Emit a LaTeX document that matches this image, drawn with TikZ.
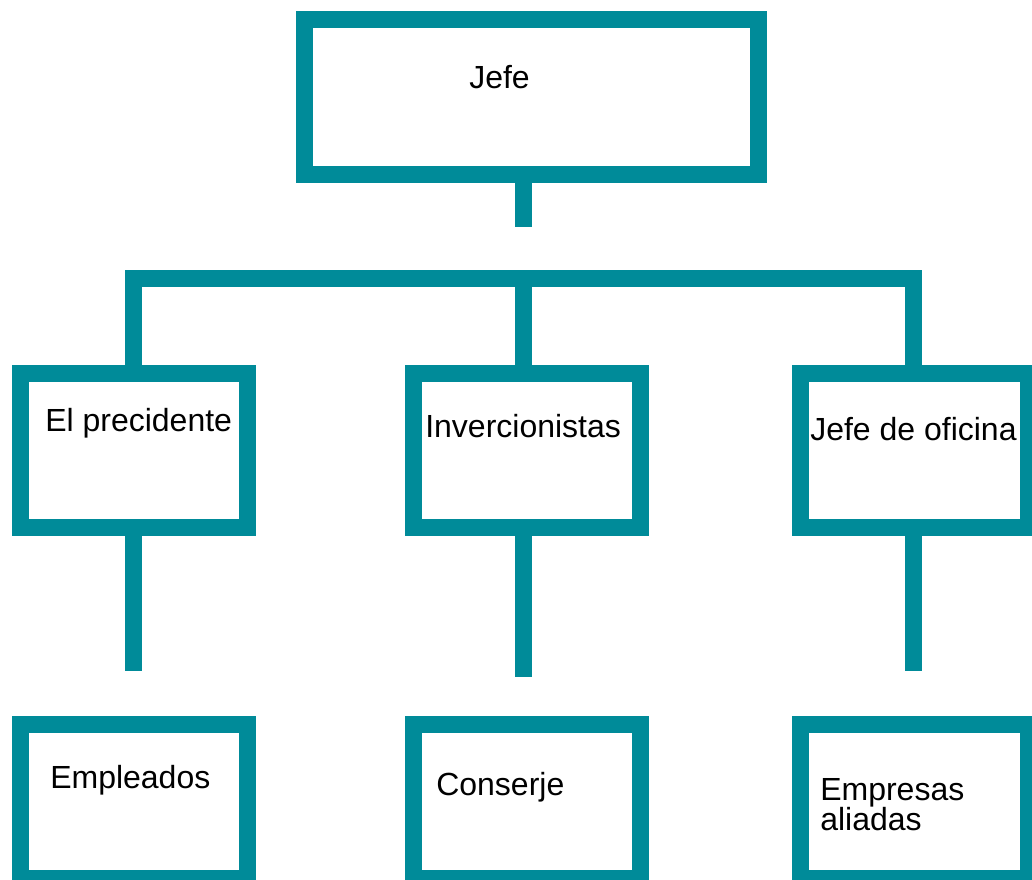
\documentclass[tikz,border=0pt]{standalone}
\usepackage{fontspec}
\setmainfont{Liberation Sans}
\definecolor{orgteal}{RGB}{0,139,153}
\begin{document}
\begin{tikzpicture}[x=0.75pt,y=-0.75pt,
  box/.style={draw=orgteal,line width=12.75pt,rectangle,inner sep=0pt,
    minimum width=170.5pt,minimum height=115.7pt},
  wire/.style={draw=orgteal,line width=12.75pt},
  lbl/.style={anchor=base west,inner sep=0pt,font=\fontsize{24}{22.5}\selectfont}]
\useasboundingbox (0,0) rectangle (1032,879);

% boxes
\node[box,minimum width=340.9pt,minimum height=116.1pt] (jefe) at (531.5,96.9) {};
\node[box] (presidente) at (133.8,450.3) {};
\node[box] (inversion) at (526.8,450.3) {};
\node[box] (oficina) at (914.5,450.3) {};
\node[box] (empleados) at (133.8,801.3) {};
\node[box] (conserje) at (526.8,801.3) {};
\node[box] (aliadas) at (914.5,801.3) {};

% connectors
\coordinate (hub) at (523.5,278.5);
\coordinate (topend) at (523.5,227);
\coordinate (lowL) at (133.8,671);
\coordinate (lowM) at (523.5,677);
\coordinate (lowR) at (913.5,671);
\draw[wire] (hub |- jefe.south) -- (topend);
\draw[wire,line join=miter] (presidente.north) |- (hub) -| (lowR |- oficina.north);
\draw[wire] (hub) -- (hub |- inversion.north);
\draw[wire] (presidente.south) -- (lowL);
\draw[wire] (hub |- inversion.south) -- (lowM);
\draw[wire] (lowR |- oficina.south) -- (lowR);

% texts
\node[lbl] (jefetxt) at (469,88) {Jefe};
\node[lbl] (presitxt) at (45,431.7) {El precidente};
\node[lbl] (invtxt) at (425,437) {Invercionistas};
\node[lbl] (ofitxt) at (810,440) {Jefe de oficina};
\node[lbl] (emptxt) at (50,788.3) {Empleados};
\node[lbl] (contxt) at (436,795) {Conserje};
\node[lbl,align=left] (alitxt) at (820,830) {Empresas\\aliadas};
\end{tikzpicture}
\end{document}
